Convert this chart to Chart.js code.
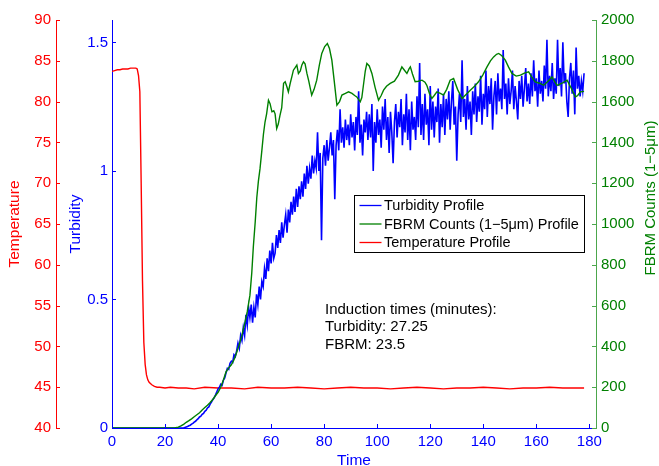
<!DOCTYPE html>
<html>
<head>
<meta charset="utf-8">
<script src="https://cdn.jsdelivr.net/npm/chart.js@4.4.0/dist/chart.umd.min.js"></script>
<style>
  html, body { margin: 0; padding: 0; background: #ffffff; }
  #wrap { position: relative; width: 659px; height: 466px; }
</style>
</head>
<body>
<div id="wrap"><canvas id="chart" width="659" height="466"></canvas></div>
<script>
// Temperature profile (deg C)
const tempTimes = [0, 1, 2, 3, 4, 5, 6, 7, 8, 9, 9.5, 10, 10.5, 11, 11.5, 12, 12.5, 13, 13.5, 14, 15, 16, 17, 18,
    20, 22, 25, 28, 31, 35, 40, 45, 50, 55, 60, 65, 70, 75, 80, 85, 90, 95, 100, 105, 110, 115, 120, 125,
    130, 135, 140, 145, 150, 155, 160, 165, 170, 175, 178];
const tempValues = [83.7, 83.8, 83.9, 83.9, 84.0, 84.0, 84.0, 84.1, 84.1, 84.1, 84.0, 83.2, 81.2, 70, 58, 50.5, 47.8, 46.5, 45.9, 45.6, 45.3, 45.1, 45.0, 45.0,
    44.9, 45.0, 44.9, 44.9, 44.8, 45.0, 44.9, 44.9, 44.8, 45.0, 44.9, 44.9, 45.0, 44.9, 44.8, 44.9, 45.0, 44.9, 44.9, 44.8, 44.9, 45.0, 44.9, 44.8,
    44.9, 44.9, 45.0, 44.9, 44.8, 44.9, 44.9, 45.0, 44.9, 44.9, 44.9];

// FBRM counts (1-5 um)
const fbrmTimes = [0, 23.5, 25, 26, 27, 28, 29, 30, 31, 32, 33, 34, 35, 36, 37, 38, 39, 40, 41, 42, 43, 44, 45, 46, 47, 48, 49, 50,
    51, 52, 52.7, 53.3, 54, 54.6, 55.2, 55.8, 56.5, 57.1, 57.7, 58.3, 59, 59.6, 60.3, 61, 61.5, 62.1, 62.7, 63.3, 64, 64.7,
    65.3, 66, 66.5, 67.2, 67.8, 68.4, 69, 69.7, 70.3, 71, 71.6, 72.2, 72.8, 73.5, 74.2, 75.3, 76.2, 77.2, 78.2, 79.1, 80.2,
    81.2, 82, 82.9, 83.8, 84.8, 85.8, 86.7, 88, 89.2, 90.5, 91.5, 92.3, 93.6, 94.2, 94.8, 95.5, 96.1, 97, 98, 99.2, 100.5,
    101.5, 102.4, 103.5, 104.9, 106.5, 108, 109.3, 110.2, 111.2, 112, 112.5, 113.3, 114.3, 115.5, 116.9, 118, 118.7, 119.7,
    120.6, 121.5, 122.5, 123.8, 125, 126.2, 127.5, 128.8, 130.3, 132, 133.5, 135.1, 136.7, 138.2, 139.8, 141.4, 142.7, 143.9,
    145, 145.8, 147, 148.3, 149.5, 150.8, 152.4, 154, 155.5, 157.1, 158.3, 159.6, 161.2, 162.8, 164.4, 165.9, 166.8, 167.8,
    169.7, 171.6, 173, 174.7, 175.6, 176.6, 178];
const fbrmCounts = [0, 0, 4, 10, 18, 28, 36, 45, 55, 65, 75, 88, 100, 112, 125, 140, 158, 175, 200, 235, 275, 295, 310, 335, 370, 410, 455, 510,
    570, 650, 760, 890, 1010, 1130, 1210, 1270, 1360, 1440, 1500, 1540, 1607, 1590, 1550, 1555, 1540, 1468, 1490, 1530, 1570, 1690,
    1697, 1670, 1648, 1690, 1721, 1754, 1765, 1779, 1738, 1750, 1780, 1795, 1785, 1738, 1700, 1632, 1660, 1705, 1780, 1836, 1870,
    1885, 1860, 1803, 1700, 1583, 1600, 1632, 1640, 1648, 1640, 1630, 1623, 1599, 1620, 1680, 1750, 1787, 1775, 1738, 1670, 1607,
    1630, 1656, 1675, 1689, 1700, 1730, 1770, 1755, 1738, 1760, 1770, 1735, 1697, 1700, 1705, 1695, 1680, 1640,
    1615, 1630, 1648, 1640, 1632, 1660, 1705, 1713, 1660, 1615, 1635, 1656, 1675, 1697, 1730, 1770, 1800, 1819,
    1832, 1836, 1825, 1803, 1770, 1738, 1725, 1730, 1740, 1746, 1720, 1697, 1690, 1680, 1700, 1721, 1700, 1680,
    1690, 1705, 1670, 1623, 1630, 1648, 1650];

// Turbidity, one reading every half minute from 27 min (flat zero before that)
const turbStart = 27;
const turbStep = 0.5;
const turbValues = [
    0.000, 0.002, 0.004, 0.006, 0.009, 0.011, 0.015, 0.018, 0.023, 0.026, 0.032, 0.036, 0.043, 0.046, 0.053, 0.057, 0.065, 0.069, 0.078, 0.082,
    0.093, 0.101, 0.110, 0.117, 0.128, 0.140, 0.152, 0.158, 0.170, 0.166, 0.186, 0.195, 0.215, 0.232, 0.228, 0.252, 0.260, 0.255, 0.285, 0.278,
    0.30, 0.33, 0.31, 0.36, 0.34, 0.39, 0.36, 0.44, 0.40, 0.47, 0.43, 0.48, 0.41, 0.47, 0.43, 0.52, 0.48, 0.55, 0.50, 0.57,
    0.55, 0.62, 0.58, 0.66, 0.61, 0.69, 0.64, 0.72, 0.66, 0.68, 0.75, 0.70, 0.77, 0.72, 0.80, 0.74, 0.79, 0.83, 0.76, 0.85,
    0.80, 0.88, 0.83, 0.90, 0.84, 0.93, 0.86, 0.94, 0.89, 0.96, 0.90, 0.99, 0.93, 1.02, 0.95, 1.01, 0.97, 1.06, 0.99, 1.04,
    1.01, 1.15, 1.00, 1.07, 0.73, 1.05, 1.10, 1.02, 1.12, 1.04, 1.09, 1.15, 1.06, 1.12, 0.89, 1.10, 1.16, 1.08, 1.24, 1.11,
    1.17, 1.09, 1.20, 1.12, 1.18, 1.10, 1.22, 1.13, 1.19, 1.08, 1.21, 1.14, 1.31, 1.11, 1.18, 1.06, 1.20, 1.15, 1.23, 1.12,
    1.22, 1.13, 1.26, 1.00, 1.19, 1.11, 1.24, 1.14, 1.20, 1.09, 1.25, 1.16, 1.28, 1.12, 1.21, 1.07, 1.23, 1.15, 1.03, 1.19,
    1.26, 1.13, 1.23, 1.17, 1.28, 1.10, 1.22, 1.15, 1.30, 1.12, 1.24, 1.08, 1.27, 1.16, 1.21, 1.12, 1.29, 1.17, 1.42, 1.14,
    1.26, 1.12, 1.30, 1.18, 1.24, 1.10, 1.33, 1.16, 1.27, 1.13, 1.25, 1.19, 1.32, 1.11, 1.26, 1.17, 1.30, 1.14, 1.28, 1.20,
    1.31, 1.16, 1.27, 1.35, 1.18, 1.25, 1.04, 1.22, 1.30, 1.19, 1.43, 1.21, 1.28, 1.16, 1.33, 1.20, 1.27, 1.14, 1.31, 1.22,
    1.34, 1.19, 1.29, 1.23, 1.37, 1.18, 1.30, 1.24, 1.39, 1.21, 1.33, 1.26, 1.36, 1.16, 1.29, 1.35, 1.22, 1.38, 1.27, 1.32,
    1.24, 1.47, 1.28, 1.34, 1.22, 1.36, 1.26, 1.31, 1.39, 1.24, 1.33, 1.27, 1.20, 1.35, 1.28, 1.37, 1.25, 1.32, 1.40, 1.27,
    1.34, 1.26, 1.38, 1.29, 1.43, 1.31, 1.36, 1.25, 1.39, 1.30, 1.35, 1.27, 1.41, 1.32, 1.51, 1.29, 1.37, 1.31, 1.42, 1.28,
    1.36, 1.30, 1.51, 1.33, 1.40, 1.29, 1.50, 1.34, 1.38, 1.27, 1.21, 1.36, 1.42, 1.30, 1.39, 1.22, 1.48, 1.32, 1.37, 1.29,
    1.35, 1.31, 1.38
];

// Tick labels
const timeTicks = [0, 20, 40, 60, 80, 100, 120, 140, 160, 180];
const turbTicks = [0, 0.5, 1, 1.5];
const tempTicks = [40, 45, 50, 55, 60, 65, 70, 75, 80, 85, 90];
const fbrmTicks = [0, 200, 400, 600, 800, 1000, 1200, 1400, 1600, 1800, 2000];

const seriesLabels = ['Turbidity Profile', 'FBRM Counts (1\u22125\u03bcm) Profile', 'Temperature Profile'];
const noteLines = ['Induction times (minutes):', 'Turbidity: 27.25', 'FBRM: 23.5'];

const BLUE = '#0000ff';
const GREEN = '#008000';
const RED = '#ff0000';
const FONT = '"Liberation Sans", Arial, Helvetica, sans-serif';

Chart.defaults.font.family = FONT;

function toPoints(times, values) {
    return times.map((t, i) => ({ x: t, y: values[i] }));
}

const turbPoints = [{ x: 0, y: 0 }].concat(turbValues.map((v, i) => ({ x: turbStart + i * turbStep, y: v })));

function setTicks(list) {
    return scale => { scale.ticks = list.map(v => ({ value: v })); };
}

// MATLAB style decorations: inward ticks, legend box, text note, right label
const matlabDecor = {
    id: 'matlabDecor',
    afterDraw(chart) {
        const ctx = chart.ctx;
        const s = chart.scales;
        const area = chart.chartArea;
        const len = 4;
        ctx.save();
        ctx.lineWidth = 1;

        const seg = (x1, y1, x2, y2) => {
            ctx.beginPath();
            ctx.moveTo(x1, y1);
            ctx.lineTo(x2, y2);
            ctx.stroke();
        };

        ctx.strokeStyle = BLUE;
        s.x.ticks.forEach(t => {
            const p = Math.round(s.x.getPixelForValue(t.value)) + 0.5;
            seg(p, area.bottom, p, area.bottom - len);
        });
        s.yTurb.ticks.forEach(t => {
            const p = Math.round(s.yTurb.getPixelForValue(t.value)) + 0.5;
            seg(area.left, p, area.left + len, p);
        });
        ctx.strokeStyle = '#4ca64c';
        s.yFbrm.ticks.forEach(t => {
            const p = Math.round(s.yFbrm.getPixelForValue(t.value)) + 0.5;
            seg(area.right, p, area.right - len, p);
        });
        ctx.strokeStyle = RED;
        const rx = s.yTemp.right;
        s.yTemp.ticks.forEach(t => {
            const p = Math.round(s.yTemp.getPixelForValue(t.value)) + 0.5;
            seg(rx, p, rx + len, p);
        });

        // legend
        const colors = [BLUE, GREEN, RED];
        const box = { left: 354.5, top: 195.5, right: 584.5, bottom: 252.5 };
        ctx.fillStyle = '#ffffff';
        ctx.fillRect(box.left, box.top, box.right - box.left, box.bottom - box.top);
        ctx.strokeStyle = '#000000';
        ctx.strokeRect(box.left, box.top, box.right - box.left, box.bottom - box.top);
        ctx.font = '14.5px ' + FONT;
        ctx.textAlign = 'left';
        ctx.textBaseline = 'alphabetic';
        seriesLabels.forEach((label, i) => {
            const base = 210.3 + i * 18.5;
            ctx.strokeStyle = colors[i];
            ctx.lineWidth = 1.3;
            seg(359.5, base - 4.8, 381.5, base - 4.8);
            ctx.fillStyle = '#000000';
            ctx.fillText(label, 384, base);
        });

        // induction time note
        ctx.font = '15px ' + FONT;
        ctx.fillStyle = '#000000';
        noteLines.forEach((line, i) => {
            ctx.fillText(line, 325, 314 + i * 17.3);
        });

        // right axis title, reads bottom to top
        ctx.translate(651, 198);
        ctx.rotate(-Math.PI / 2);
        ctx.font = '15px ' + FONT;
        ctx.fillStyle = GREEN;
        ctx.textAlign = 'center';
        ctx.textBaseline = 'middle';
        ctx.fillText('FBRM Counts (1\u22125\u03bcm)', 0, 0);
        ctx.restore();
    }
};

const ctx = document.getElementById('chart').getContext('2d');

new Chart(ctx, {
    type: 'line',
    data: {
        datasets: [
            {
                label: seriesLabels[1],
                data: toPoints(fbrmTimes, fbrmCounts),
                yAxisID: 'yFbrm',
                borderColor: GREEN,
                borderWidth: 1.4,
                order: 0
            },
            {
                label: seriesLabels[0],
                data: turbPoints,
                yAxisID: 'yTurb',
                borderColor: BLUE,
                borderWidth: 1.6,
                order: 1
            },
            {
                label: seriesLabels[2],
                data: toPoints(tempTimes, tempValues),
                yAxisID: 'yTemp',
                borderColor: RED,
                borderWidth: 1.4,
                order: 2
            }
        ]
    },
    options: {
        responsive: false,
        animation: false,
        elements: {
            point: { radius: 0 },
            line: { borderWidth: 1.3, tension: 0 }
        },
        layout: { padding: { top: 20, left: 0, right: 0, bottom: 0 } },
        plugins: {
            legend: { display: false },
            tooltip: { enabled: false }
        },
        scales: {
            x: {
                type: 'linear',
                min: 0,
                max: 182.5,
                afterBuildTicks: setTicks(timeTicks),
                afterFit: scale => { scale.height = 38; },
                grid: { display: false, drawTicks: false },
                border: { color: BLUE, width: 1 },
                ticks: {
                    color: BLUE,
                    font: { size: 15 },
                    padding: 5,
                    maxRotation: 0,
                    autoSkip: false,
                    callback: v => String(v)
                },
                title: {
                    display: true,
                    text: 'Time',
                    color: BLUE,
                    font: { size: 15.5 },
                    padding: { top: 0, bottom: -4 }
                }
            },
            yTurb: {
                type: 'linear',
                position: 'left',
                weight: 0,
                min: 0,
                max: 1.587,
                afterBuildTicks: setTicks(turbTicks),
                afterFit: scale => { scale.width = 56; },
                grid: { display: false, drawTicks: false },
                border: { color: BLUE, width: 1 },
                ticks: {
                    color: BLUE,
                    font: { size: 15 },
                    padding: 4,
                    callback: v => String(v)
                },
                title: {
                    display: true,
                    text: 'Turbidity',
                    color: BLUE,
                    font: { size: 15.5 },
                    padding: { top: 10, bottom: 0 }
                }
            },
            yTemp: {
                type: 'linear',
                position: 'left',
                weight: 10,
                min: 40,
                max: 90,
                afterBuildTicks: setTicks(tempTicks),
                afterFit: scale => { scale.width = 56; },
                grid: { display: false, drawTicks: false },
                border: { color: RED, width: 1 },
                ticks: {
                    color: RED,
                    font: { size: 15 },
                    padding: 5,
                    callback: v => String(v)
                },
                title: {
                    display: true,
                    text: 'Temperature',
                    color: RED,
                    font: { size: 15.5 },
                    padding: { top: 5, bottom: 0 }
                }
            },
            yFbrm: {
                type: 'linear',
                position: 'right',
                min: 0,
                max: 2000,
                afterBuildTicks: setTicks(fbrmTicks),
                afterFit: scale => { scale.width = 63; },
                grid: { display: false, drawTicks: false },
                border: { color: '#4ca64c', width: 1 },
                ticks: {
                    color: GREEN,
                    font: { size: 15 },
                    padding: 5,
                    callback: v => String(v)
                },
                title: { display: false }
            }
        }
    },
    plugins: [matlabDecor]
});
</script>
</body>
</html>
